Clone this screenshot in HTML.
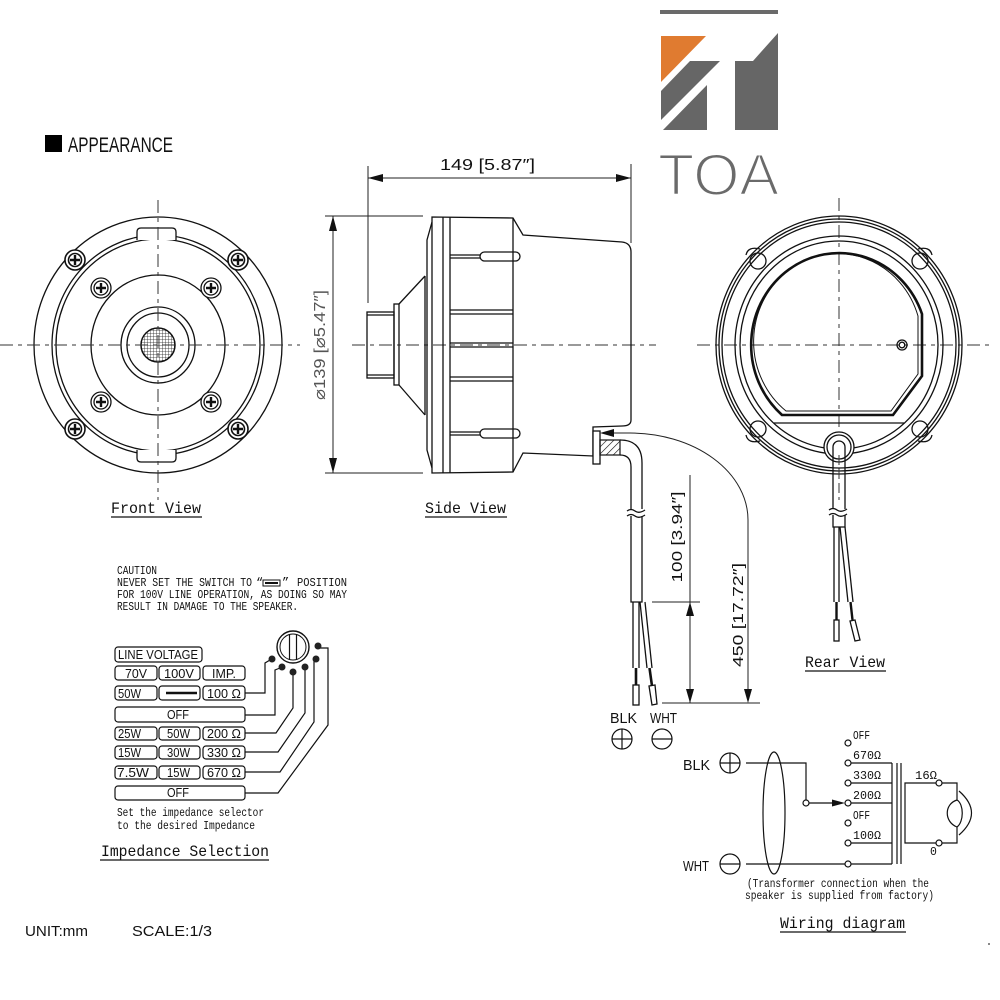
<!DOCTYPE html>
<html><head><meta charset="utf-8"><style>
html,body{margin:0;padding:0;background:#fff;}
svg{display:block;}
text{font-family:"Liberation Sans","DejaVu Sans",sans-serif;fill:#111;}
.m{font-family:"Liberation Mono","DejaVu Sans Mono",monospace;}
</style></head><body>
<svg width="1000" height="1000" viewBox="0 0 1000 1000" xmlns="http://www.w3.org/2000/svg">
<rect width="1000" height="1000" fill="#fff"/>

<!-- Logo -->
<rect x="660" y="10" width="118" height="4" fill="#6a6a6a"/>
<polygon points="661,36 706,36 661,82" fill="#e07b30"/>
<polygon points="690,61 720,61 661,120 661,91" fill="#666"/>
<polygon points="707,85 707,130 663,130" fill="#666"/>
<polygon points="735,61 753,61 778,33 778,130 735,130" fill="#666"/>
<text x="658" y="195" font-size="58" style="fill:#6a6a6a" stroke="#fff" stroke-width="2" textLength="121" lengthAdjust="spacingAndGlyphs">TOA</text>

<!-- APPEARANCE -->
<rect x="45" y="135" width="17" height="17" fill="#000"/>
<text x="68" y="152" font-size="21" textLength="105" lengthAdjust="spacingAndGlyphs">APPEARANCE</text>

<defs>
<pattern id="mesh" width="3" height="3" patternUnits="userSpaceOnUse">
<path d="M0,0 L3,0 M0,0 L0,3" stroke="#222" stroke-width="0.8"/>
</pattern>
<pattern id="hatch" width="5" height="5" patternUnits="userSpaceOnUse" patternTransform="rotate(45)">
<line x1="0" y1="0" x2="0" y2="5" stroke="#111" stroke-width="1.2"/>
</pattern>
</defs>

<g fill="none" stroke="#111" stroke-width="1.3">
<!-- ===== FRONT VIEW ===== -->
<ellipse cx="158" cy="345" rx="124" ry="128"/>
<ellipse cx="158" cy="345" rx="106" ry="110"/>
<ellipse cx="158" cy="345" rx="102" ry="106"/>
<path d="M137,240 L137,232 Q137,228 141,228 L172,228 Q176,228 176,232 L176,240" fill="#fff"/>
<path d="M137,450 L137,458 Q137,462 141,462 L172,462 Q176,462 176,458 L176,450" fill="#fff"/>
<ellipse cx="158" cy="345" rx="67" ry="70"/>
<ellipse cx="158" cy="345" rx="37" ry="38"/>
<ellipse cx="158" cy="345" rx="31" ry="32"/>
</g>
<ellipse cx="158" cy="345" rx="17" ry="17" fill="url(#mesh)" stroke="#111" stroke-width="1.5"/>

<!-- screws -->
<g stroke="#111" fill="#fff">
<g transform="translate(75,260)"><circle r="10" stroke-width="1.6"/><circle r="6.5" stroke-width="1.6"/><path d="M-5,0 H5 M0,-5 V5" stroke-width="2.4"/></g>
<g transform="translate(238,260)"><circle r="10" stroke-width="1.6"/><circle r="6.5" stroke-width="1.6"/><path d="M-5,0 H5 M0,-5 V5" stroke-width="2.4"/></g>
<g transform="translate(75,429)"><circle r="10" stroke-width="1.6"/><circle r="6.5" stroke-width="1.6"/><path d="M-5,0 H5 M0,-5 V5" stroke-width="2.4"/></g>
<g transform="translate(238,429)"><circle r="10" stroke-width="1.6"/><circle r="6.5" stroke-width="1.6"/><path d="M-5,0 H5 M0,-5 V5" stroke-width="2.4"/></g>
<g transform="translate(101,288)"><circle r="10" stroke-width="1.3"/><circle r="7" stroke-width="1.3"/><path d="M-5,0 H5 M0,-5 V5" stroke-width="2.4"/></g>
<g transform="translate(211,288)"><circle r="10" stroke-width="1.3"/><circle r="7" stroke-width="1.3"/><path d="M-5,0 H5 M0,-5 V5" stroke-width="2.4"/></g>
<g transform="translate(101,402)"><circle r="10" stroke-width="1.3"/><circle r="7" stroke-width="1.3"/><path d="M-5,0 H5 M0,-5 V5" stroke-width="2.4"/></g>
<g transform="translate(211,402)"><circle r="10" stroke-width="1.3"/><circle r="7" stroke-width="1.3"/><path d="M-5,0 H5 M0,-5 V5" stroke-width="2.4"/></g>
</g>

<!-- center lines -->
<g stroke="#333" stroke-width="1" stroke-dasharray="13 5 4 5" fill="none">
<line x1="0" y1="345" x2="300" y2="345"/>
<line x1="158" y1="200" x2="158" y2="500"/>
<line x1="352" y1="345" x2="656" y2="345"/>
<line x1="697" y1="345" x2="993" y2="345"/>
<line x1="839" y1="198" x2="839" y2="478"/>
</g>

<!-- dimension ⌀139 -->
<g stroke="#222" stroke-width="1" fill="none">
<line x1="325" y1="216" x2="423" y2="216"/>
<line x1="325" y1="473" x2="423" y2="473"/>
<line x1="333" y1="216" x2="333" y2="473"/>
<line x1="368" y1="166" x2="368" y2="303"/>
<line x1="631" y1="164" x2="631" y2="243"/>
<line x1="368" y1="178" x2="631" y2="178"/>
</g>
<g fill="#111">
<polygon points="333,216 329,231 337,231"/>
<polygon points="333,473 329,458 337,458"/>
<polygon points="368,178 383,174 383,182"/>
<polygon points="631,178 616,174 616,182"/>
</g>
<text transform="translate(325,345) rotate(-90)" text-anchor="middle" font-size="16" style="fill:#555" textLength="110" lengthAdjust="spacingAndGlyphs">⌀139 [⌀5.47″]</text>
<text x="440" y="170" font-size="16" textLength="95" lengthAdjust="spacingAndGlyphs">149 [5.87″]</text>

<!-- ===== SIDE VIEW ===== -->
<g fill="none" stroke="#111" stroke-width="1.3">
<rect x="367" y="312" width="27" height="66"/>
<line x1="367" y1="315" x2="394" y2="315"/>
<line x1="367" y1="375" x2="394" y2="375"/>
<rect x="394" y="304" width="5" height="81"/>
<line x1="399" y1="304" x2="425" y2="276"/>
<line x1="399" y1="385" x2="425" y2="415"/>
<line x1="425" y1="276" x2="425" y2="415"/>
<path d="M432,222 L427,240 L427,450 L432,468"/>
<path d="M432,217 L513,218 L523,235 L622,242 Q631,243 631,252 L631,420 Q631,426 622,426 L593,427 L593,456 L523,453 L513,472 L432,473 Z"/>
<line x1="443" y1="217" x2="443" y2="473"/>
<line x1="450" y1="217" x2="450" y2="473"/>
<line x1="513" y1="218" x2="513" y2="472"/>
<line x1="450" y1="310" x2="513" y2="310"/>
<line x1="450" y1="314" x2="513" y2="314"/>
<line x1="450" y1="343" x2="513" y2="343"/>
<line x1="450" y1="347" x2="513" y2="347"/>
<line x1="450" y1="377" x2="513" y2="377"/>
<line x1="450" y1="381" x2="513" y2="381"/>
<line x1="450" y1="255" x2="480" y2="255"/>
<line x1="450" y1="258" x2="480" y2="258"/>
<rect x="480" y="252" width="40" height="9" rx="4.5"/>
<line x1="450" y1="432" x2="480" y2="432"/>
<line x1="450" y1="435" x2="480" y2="435"/>
<rect x="480" y="429" width="40" height="9" rx="4.5"/>
<rect x="593" y="431" width="7" height="33" fill="#fff"/>
</g>
<rect x="600" y="440" width="20" height="15" fill="url(#hatch)" stroke="#111" stroke-width="1.2"/>
<!-- cable side -->
<g fill="none" stroke="#111" stroke-width="1.3">
<path d="M620,440 Q642,440 642,463 L642,509"/>
<path d="M620,455 Q631,455 631,467 L631,509"/>
<path d="M631,516 L631,602 L642,602 L642,516"/>
<path d="M627,511 q4,-3 8,0 q4,3 10,-1"/>
<path d="M627,516 q4,-3 8,0 q4,3 10,-1"/>
<line x1="633" y1="602" x2="633" y2="668"/>
<line x1="639" y1="602" x2="639" y2="668"/>
<line x1="640" y1="602" x2="647" y2="668"/>
<line x1="645" y1="602" x2="652" y2="668"/>
<rect x="633" y="685" width="6" height="20"/>
<polygon points="649,686 655,685 657,704 652,705"/>
</g>
<g stroke="#111" stroke-width="2.6">
<line x1="636" y1="668" x2="636" y2="685"/>
<line x1="649.5" y1="668" x2="652" y2="686"/>
</g>
<!-- 450 / 100 dims -->
<g fill="none" stroke="#222" stroke-width="1">
<path d="M612,433 L630,433 A118 87 0 0 1 748 520 L748 690"/>
<line x1="690" y1="475" x2="690" y2="703"/>
<line x1="652" y1="602" x2="700" y2="602"/>
<line x1="662" y1="703" x2="760" y2="703"/>
</g>
<g fill="#111">
<polygon points="600,433 614,429 614,437"/>
<polygon points="748,703 744,689 752,689"/>
<polygon points="690,602 686,616 694,616"/>
<polygon points="690,703 686,689 694,689"/>
</g>
<text transform="translate(682,537) rotate(-90)" text-anchor="middle" font-size="15" textLength="91" lengthAdjust="spacingAndGlyphs">100 [3.94″]</text>
<text transform="translate(743,615) rotate(-90)" text-anchor="middle" font-size="15" textLength="104" lengthAdjust="spacingAndGlyphs">450 [17.72″]</text>
<text x="610" y="723" font-size="15" textLength="27" lengthAdjust="spacingAndGlyphs">BLK</text>
<text x="650" y="723" font-size="15" textLength="27" lengthAdjust="spacingAndGlyphs">WHT</text>
<g fill="none" stroke="#111" stroke-width="1.2">
<circle cx="622" cy="739" r="10"/><path d="M612,739 H632 M622,729 V749"/>
<circle cx="662" cy="739" r="10"/><path d="M652,739 H672"/>
</g>

<!-- ===== REAR VIEW ===== -->
<g fill="none" stroke="#111" stroke-width="1.3">
<ellipse cx="839" cy="345" rx="123" ry="129"/>
<ellipse cx="839" cy="345" rx="120" ry="126"/>
<ellipse cx="839" cy="345" rx="117" ry="123"/>
<ellipse cx="839" cy="345" rx="104" ry="109"/>
<ellipse cx="839" cy="345" rx="99" ry="104"/>
<path d="M782,415 A88 92 0 1 1 922 314 L922 376 L893 415 Z" stroke-width="2.6"/>
<path d="M786,411 A84 88 0 1 1 918 316 L918 374 L891 411 Z" stroke-width="1"/>
<line x1="774" y1="423" x2="904" y2="423"/>
<circle cx="758" cy="261" r="8"/><circle cx="920" cy="261" r="8"/>
<circle cx="758" cy="429" r="8"/><circle cx="920" cy="429" r="8"/>
<path d="M746,255 Q748,246 760,249 M932,255 Q930,246 918,249 M746,435 Q748,444 760,441 M932,435 Q930,444 918,441"/>
<circle cx="902" cy="345" r="5"/><circle cx="902" cy="345" r="2.8"/>
<circle cx="839" cy="447" r="15" fill="#fff"/>
<circle cx="839" cy="447" r="12"/>
<path d="M833,509 L833,447 A6 6 0 0 1 845 447 L845 509"/>
<path d="M833,515 L833,527 L845,527 L845,515"/>
<path d="M829,510 q4,-3 8,0 q4,3 10,-1"/>
<path d="M829,515 q4,-3 8,0 q4,3 10,-1"/>
<line x1="834" y1="527" x2="834" y2="602"/>
<line x1="839" y1="527" x2="839" y2="602"/>
<line x1="840" y1="527" x2="848" y2="602"/>
<line x1="845" y1="527" x2="853" y2="602"/>
<rect x="834" y="620" width="5" height="21"/>
<polygon points="850,621 855,620 860,640 855,641"/>
</g>
<g stroke="#111" stroke-width="2.4">
<line x1="836.5" y1="602" x2="836.5" y2="620"/>
<line x1="850.5" y1="602" x2="852.5" y2="620"/>
</g>
<line x1="839" y1="455" x2="839" y2="500" stroke="#333" stroke-width="1" stroke-dasharray="10 4"/>

<!-- View labels -->
<text class="m" x="111" y="513" font-size="16" textLength="90" lengthAdjust="spacingAndGlyphs">Front View</text>
<line x1="111" y1="517" x2="202" y2="517" stroke="#111" stroke-width="1.2"/>
<text class="m" x="425" y="513" font-size="16" textLength="81" lengthAdjust="spacingAndGlyphs">Side View</text>
<line x1="425" y1="517" x2="507" y2="517" stroke="#111" stroke-width="1.2"/>
<text class="m" x="805" y="667" font-size="16" textLength="80" lengthAdjust="spacingAndGlyphs">Rear View</text>
<line x1="805" y1="671" x2="886" y2="671" stroke="#111" stroke-width="1.2"/>

<!-- ===== CAUTION ===== -->
<g class="m" font-size="12">
<text class="m" x="117" y="574" textLength="40" lengthAdjust="spacingAndGlyphs">CAUTION</text>
<text class="m" x="117" y="586" textLength="135" lengthAdjust="spacingAndGlyphs">NEVER SET THE SWITCH TO</text>
<text class="m" x="256" y="586">“</text>
<text class="m" x="282" y="586">”</text>
<text class="m" x="297" y="586" textLength="50" lengthAdjust="spacingAndGlyphs">POSITION</text>
<text class="m" x="117" y="598" textLength="230" lengthAdjust="spacingAndGlyphs">FOR 100V LINE OPERATION, AS DOING SO MAY</text>
<text class="m" x="117" y="610" textLength="181" lengthAdjust="spacingAndGlyphs">RESULT IN DAMAGE TO THE SPEAKER.</text>
</g>
<rect x="263" y="580" width="17" height="6" fill="none" stroke="#111" stroke-width="1"/>
<line x1="265" y1="583" x2="278" y2="583" stroke="#111" stroke-width="2"/>

<!-- ===== Impedance table ===== -->
<g fill="none" stroke="#111" stroke-width="1.2">
<rect x="115" y="647" width="87" height="15" rx="3"/>
<rect x="115" y="666" width="42" height="14" rx="3"/>
<rect x="159" y="666" width="41" height="14" rx="3"/>
<rect x="203" y="666" width="42" height="14" rx="3"/>
<rect x="115" y="686" width="42" height="14" rx="3"/>
<rect x="159" y="686" width="41" height="14" rx="3"/>
<rect x="203" y="686" width="42" height="14" rx="3"/>
<rect x="115" y="707" width="130" height="15" rx="3"/>
<rect x="115" y="727" width="42" height="13" rx="3"/>
<rect x="159" y="727" width="41" height="13" rx="3"/>
<rect x="203" y="727" width="42" height="13" rx="3"/>
<rect x="115" y="746" width="42" height="13" rx="3"/>
<rect x="159" y="746" width="41" height="13" rx="3"/>
<rect x="203" y="746" width="42" height="13" rx="3"/>
<rect x="115" y="766" width="42" height="13" rx="3"/>
<rect x="159" y="766" width="41" height="13" rx="3"/>
<rect x="203" y="766" width="42" height="13" rx="3"/>
<rect x="115" y="786" width="130" height="14" rx="3"/>
<circle cx="293" cy="647" r="16" stroke-width="1.4"/>
<circle cx="293" cy="647" r="13" stroke-width="1"/>
<line x1="289.5" y1="634" x2="289.5" y2="660"/>
<line x1="296.5" y1="634" x2="296.5" y2="660"/>
<path d="M245,693 H265 V663 L270,660"/>
<path d="M245,715 H275 V670 L280,668"/>
<path d="M245,733 H276 L293,708 V672"/>
<path d="M245,752 H278 L305,713 V667"/>
<path d="M245,772 H280 L314,722 V659"/>
<path d="M245,793 H278 L328,725 V648 H320"/>
</g>
<g fill="#222">
<circle cx="272" cy="659" r="3.5"/><circle cx="282" cy="667" r="3.5"/>
<circle cx="293" cy="672" r="3.5"/><circle cx="305" cy="667" r="3.5"/>
<circle cx="316" cy="659" r="3.5"/><circle cx="318" cy="646" r="3.5"/>
</g>
<line x1="166" y1="693" x2="197" y2="693" stroke="#111" stroke-width="2.4"/>
<g font-size="12.5">
<text x="118" y="659" textLength="80" lengthAdjust="spacingAndGlyphs">LINE VOLTAGE</text>
<text x="125" y="678" textLength="22" lengthAdjust="spacingAndGlyphs">70V</text>
<text x="164" y="678" textLength="30" lengthAdjust="spacingAndGlyphs">100V</text>
<text x="212" y="678" textLength="24" lengthAdjust="spacingAndGlyphs">IMP.</text>
<text x="118" y="698" textLength="23" lengthAdjust="spacingAndGlyphs">50W</text>
<text x="207" y="698" textLength="34" lengthAdjust="spacingAndGlyphs">100 Ω</text>
<text x="167" y="719" textLength="22" lengthAdjust="spacingAndGlyphs">OFF</text>
<text x="118" y="738" textLength="23" lengthAdjust="spacingAndGlyphs">25W</text>
<text x="167" y="738" textLength="23" lengthAdjust="spacingAndGlyphs">50W</text>
<text x="207" y="738" textLength="34" lengthAdjust="spacingAndGlyphs">200 Ω</text>
<text x="118" y="757" textLength="23" lengthAdjust="spacingAndGlyphs">15W</text>
<text x="167" y="757" textLength="23" lengthAdjust="spacingAndGlyphs">30W</text>
<text x="207" y="757" textLength="34" lengthAdjust="spacingAndGlyphs">330 Ω</text>
<text x="117" y="777" textLength="32" lengthAdjust="spacingAndGlyphs">7.5W</text>
<text x="167" y="777" textLength="23" lengthAdjust="spacingAndGlyphs">15W</text>
<text x="207" y="777" textLength="34" lengthAdjust="spacingAndGlyphs">670 Ω</text>
<text x="167" y="797" textLength="22" lengthAdjust="spacingAndGlyphs">OFF</text>
</g>
<text class="m" x="117" y="816" font-size="11.5" textLength="147" lengthAdjust="spacingAndGlyphs">Set the impedance selector</text>
<text class="m" x="117" y="829" font-size="11.5" textLength="138" lengthAdjust="spacingAndGlyphs">to the desired Impedance</text>
<text class="m" x="101" y="856" font-size="16" textLength="168" lengthAdjust="spacingAndGlyphs">Impedance Selection</text>
<line x1="100" y1="860" x2="269" y2="860" stroke="#111" stroke-width="1.2"/>

<!-- ===== Wiring diagram ===== -->
<text x="683" y="770" font-size="15" textLength="27" lengthAdjust="spacingAndGlyphs">BLK</text>
<text x="683" y="871" font-size="15" textLength="26" lengthAdjust="spacingAndGlyphs">WHT</text>
<g fill="none" stroke="#111" stroke-width="1.2">
<circle cx="730" cy="763" r="10"/><path d="M720,763 H740 M730,753 V773"/>
<circle cx="730" cy="864" r="10"/><path d="M720,864 H740"/>
<path d="M746,763 H806 V800"/>
<circle cx="806" cy="803" r="3" fill="#fff"/>
<line x1="809" y1="803" x2="836" y2="803"/>
<line x1="746" y1="864" x2="845" y2="864"/>
<ellipse cx="774" cy="813" rx="11" ry="61"/>
<circle cx="848" cy="743" r="3" fill="#fff"/>
<circle cx="848" cy="763" r="3" fill="#fff"/>
<circle cx="848" cy="783" r="3" fill="#fff"/>
<circle cx="848" cy="803" r="3" fill="#fff"/>
<circle cx="848" cy="823" r="3" fill="#fff"/>
<circle cx="848" cy="843" r="3" fill="#fff"/>
<circle cx="848" cy="864" r="3" fill="#fff"/>
<path d="M851,763 H892 M851,783 H892 M851,803 H892 M851,843 H892 M851,864 H892"/>
<line x1="892" y1="763" x2="892" y2="864"/>
<line x1="897" y1="763" x2="897" y2="864"/>
<line x1="901" y1="763" x2="901" y2="864"/>
<path d="M936,783 H905 V843 H936"/>
<circle cx="939" cy="783" r="3" fill="#fff"/>
<circle cx="939" cy="843" r="3" fill="#fff"/>
<path d="M942,783 H957 V800"/>
<path d="M942,843 H957 V827"/>
<path d="M957,800 C944,804 944,822 957,827 C964,822 964,804 957,800 Z"/>
<path d="M959,791 Q984,813 959,835"/>
</g>
<polygon points="845,803 832,799.5 832,806.5" fill="#111"/>
<g class="m" font-size="11.5">
<text class="m" x="853" y="739" textLength="17" lengthAdjust="spacingAndGlyphs">OFF</text>
<text class="m" x="853" y="759" textLength="28" lengthAdjust="spacingAndGlyphs">670Ω</text>
<text class="m" x="853" y="779" textLength="28" lengthAdjust="spacingAndGlyphs">330Ω</text>
<text class="m" x="853" y="799" textLength="28" lengthAdjust="spacingAndGlyphs">200Ω</text>
<text class="m" x="853" y="819" textLength="17" lengthAdjust="spacingAndGlyphs">OFF</text>
<text class="m" x="853" y="839" textLength="28" lengthAdjust="spacingAndGlyphs">100Ω</text>
<text class="m" x="915" y="779" textLength="22" lengthAdjust="spacingAndGlyphs">16Ω</text>
<text class="m" x="930" y="855">0</text>
</g>
<text class="m" x="747" y="887" font-size="11.5" textLength="182" lengthAdjust="spacingAndGlyphs">(Transformer connection when the</text>
<text class="m" x="745" y="899" font-size="11.5" textLength="189" lengthAdjust="spacingAndGlyphs">speaker is supplied from factory)</text>
<text class="m" x="780" y="928" font-size="16" textLength="125" lengthAdjust="spacingAndGlyphs">Wiring diagram</text>
<line x1="780" y1="932" x2="906" y2="932" stroke="#111" stroke-width="1.2"/>
<circle cx="989" cy="944" r="0.9" fill="#333"/>

<!-- UNIT / SCALE -->
<text x="25" y="936" font-size="15" textLength="63" lengthAdjust="spacingAndGlyphs">UNIT:mm</text>
<text x="132" y="936" font-size="15" textLength="80" lengthAdjust="spacingAndGlyphs">SCALE:1/3</text>
</svg>
</body></html>
